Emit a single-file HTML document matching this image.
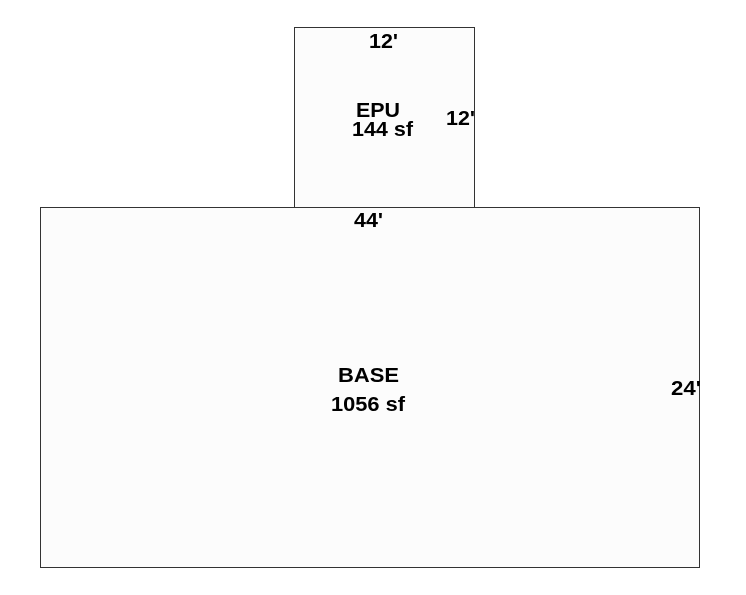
<!DOCTYPE html>
<html><head><style>html,body{margin:0;padding:0;background:#fff}</style></head>
<body>
<svg width="746" height="595" xmlns="http://www.w3.org/2000/svg" style="display:block;font-family:'Liberation Sans',Arial,sans-serif;font-weight:bold">
<rect x="294.5" y="27.5" width="180" height="180" fill="#fcfcfc" stroke="#333" stroke-width="1"/>
<rect x="40.5" y="207.5" width="659" height="360" fill="#fcfcfc" stroke="#333" stroke-width="1"/>
<g font-size="20.5" fill="#000">
<text x="369" y="48" textLength="29" lengthAdjust="spacingAndGlyphs">12'</text>
<text x="356" y="117" textLength="44" lengthAdjust="spacingAndGlyphs">EPU</text>
<text x="352" y="136" textLength="61" lengthAdjust="spacingAndGlyphs">144 sf</text>
<text x="446" y="125" textLength="29" lengthAdjust="spacingAndGlyphs">12'</text>
<text x="354" y="227" textLength="29" lengthAdjust="spacingAndGlyphs">44'</text>
<text x="338" y="382" textLength="61" lengthAdjust="spacingAndGlyphs">BASE</text>
<text x="331" y="411" textLength="74" lengthAdjust="spacingAndGlyphs">1056 sf</text>
<text x="671" y="395" textLength="30" lengthAdjust="spacingAndGlyphs">24'</text>
</g>
</svg>
</body></html>
